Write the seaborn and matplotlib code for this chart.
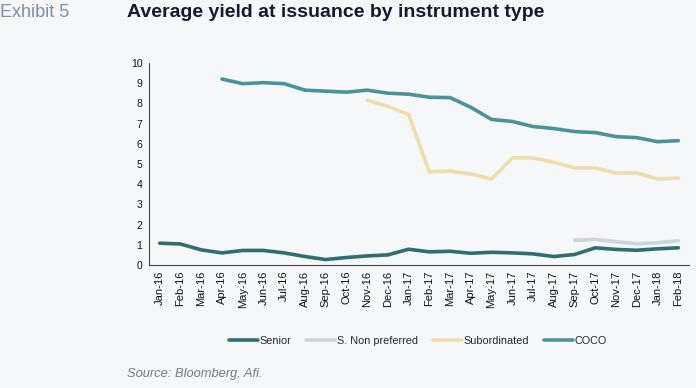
import numpy as np
import pandas as pd
import matplotlib
matplotlib.use("Agg")
import matplotlib.pyplot as plt
import seaborn as sns

# ---- data ----
months = ["Jan-16", "Feb-16", "Mar-16", "Apr-16", "May-16", "Jun-16", "Jul-16",
          "Aug-16", "Sep-16", "Oct-16", "Nov-16", "Dec-16", "Jan-17", "Feb-17",
          "Mar-17", "Apr-17", "May-17", "Jun-17", "Jul-17", "Aug-17", "Sep-17",
          "Oct-17", "Nov-17", "Dec-17", "Jan-18", "Feb-18"]
nan = np.nan
senior = [1.08, 1.04, 0.75, 0.60, 0.72, 0.72, 0.60, 0.42, 0.27, 0.37, 0.45, 0.50,
          0.78, 0.65, 0.68, 0.58, 0.63, 0.60, 0.55, 0.42, 0.52, 0.85, 0.77, 0.73,
          0.80, 0.85]
non_preferred = [nan] * 20 + [1.22, 1.27, 1.15, 1.05, 1.10, 1.20]
subordinated = [nan] * 10 + [8.15, 7.85, 7.45, 4.60, 4.65, 4.50, 4.25, 5.30, 5.30,
                             5.08, 4.80, 4.80, 4.55, 4.55, 4.25, 4.30]
coco = [nan] * 3 + [9.20, 8.97, 9.02, 8.97, 8.65, 8.60, 8.55, 8.65, 8.50, 8.45,
                    8.30, 8.28, 7.80, 7.20, 7.10, 6.85, 6.75, 6.60, 6.55, 6.35,
                    6.30, 6.10, 6.15]

series = {"Senior": senior, "S. Non preferred": non_preferred,
          "Subordinated": subordinated, "COCO": coco}
colors = {"Senior": "#2f6f6f", "S. Non preferred": "#c9d6da",
          "Subordinated": "#efdcab", "COCO": "#4b929a"}

rows = []
for name, vals in series.items():
    for i, v in enumerate(vals):
        if not np.isnan(v):
            rows.append({"pos": i, "yield": v, "type": name})
df = pd.DataFrame(rows)

# ---- plot ----
sns.set_style("white")
plt.rcParams["font.family"] = ["Liberation Sans", "DejaVu Sans"]
bg = "#f5f7f9"
fig = plt.figure(figsize=(6.96, 3.88), dpi=100, facecolor=bg)
ax = fig.add_axes([0.2145, 0.317, 0.775, 0.521], facecolor=bg)

sns.lineplot(data=df, x="pos", y="yield", hue="type", palette=colors,
             hue_order=list(series.keys()), linewidth=2.6, ax=ax,
             legend=False)

ax.set_xlim(-0.5, len(months) - 0.5)
ax.set_ylim(0, 10)
ax.set_yticks(range(0, 11))
ax.set_xticks(range(len(months)))
ax.set_xticklabels(months, rotation=90, fontsize=8, color="#111111")
ax.set_xticks(np.arange(-0.5, len(months), 1), minor=True)
ax.tick_params(axis="x", which="major", length=0, pad=4)
ax.tick_params(axis="x", which="minor", length=3, color="#444444", width=0.8)
ax.tick_params(axis="y", labelsize=7.5, length=3, color="#444444", width=0.8,
               labelcolor="#111111", pad=2)
ax.set_xlabel("")
ax.set_ylabel("")
for s in ["top", "right"]:
    ax.spines[s].set_visible(False)
for s in ["left", "bottom"]:
    ax.spines[s].set_color("#444444")
    ax.spines[s].set_linewidth(0.8)

# legend
handles = [plt.Line2D([0], [0], color=colors[n], lw=2.6) for n in series]
fig.legend(handles, list(series.keys()), loc="center", ncol=4,
           bbox_to_anchor=(0.6, 0.121), frameon=False, fontsize=7.8,
           handlelength=2.7, handletextpad=0.1, columnspacing=1.4)

fig.text(0.0, 0.968, "Exhibit 5", fontsize=13, color="#7d8ea3", va="center")
fig.text(0.183, 0.968, "Average yield at issuance by instrument type",
         fontsize=14, fontweight="bold", color="#141a33", va="center")
fig.text(0.183, 0.035, "Source: Bloomberg, Afi.", fontsize=9.3, style="italic",
         color="#777777", va="center")

fig.savefig("out.png", dpi=100, facecolor=bg)
